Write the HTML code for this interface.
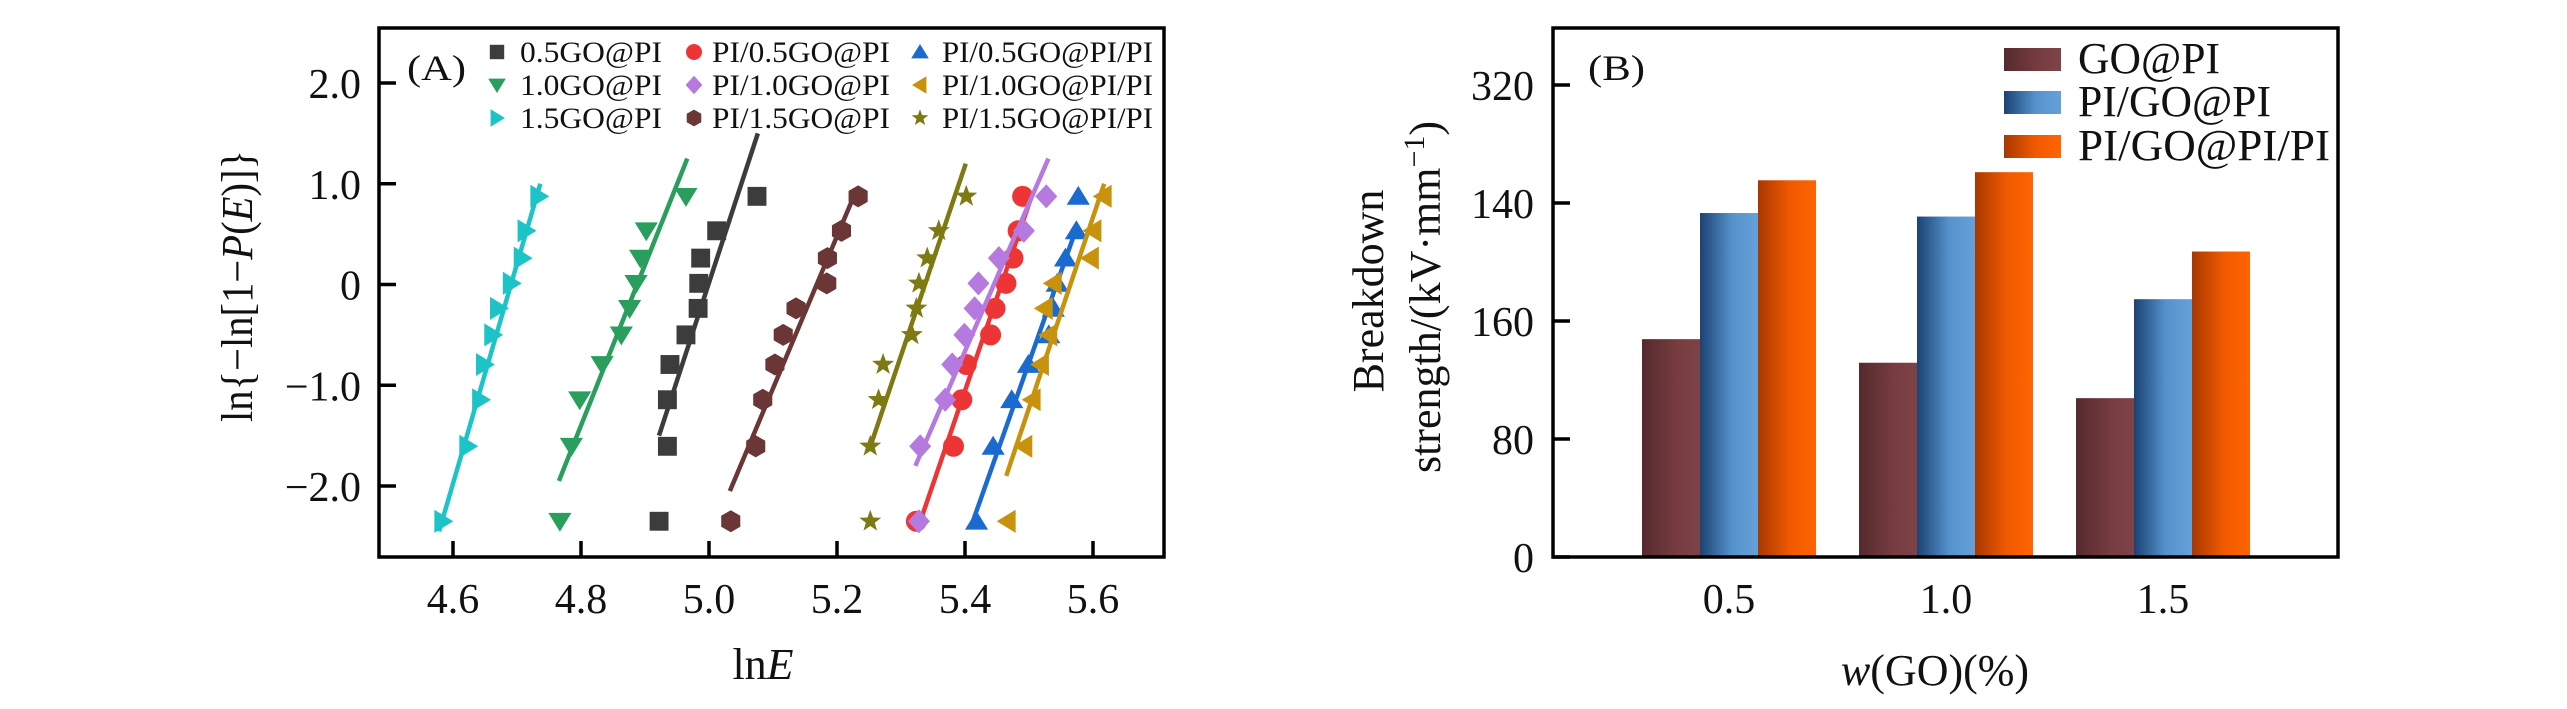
<!DOCTYPE html>
<html><head><meta charset="utf-8">
<style>
html,body{margin:0;padding:0;background:#fff;}
svg{display:block;}
text{font-family:"Liberation Serif",serif;fill:#111;}
</style></head>
<body>
<svg id="fig" width="2567" height="709" viewBox="0 0 2567 709" xmlns="http://www.w3.org/2000/svg">
<defs>
<linearGradient id="gBrown" x1="0" x2="1" y1="0" y2="0"><stop offset="0" stop-color="#552a2d"/><stop offset="0.6" stop-color="#763c40"/><stop offset="1" stop-color="#7e4346"/></linearGradient>
<linearGradient id="gBlue" x1="0" x2="1" y1="0" y2="0"><stop offset="0" stop-color="#1c4272"/><stop offset="0.55" stop-color="#5592cc"/><stop offset="1" stop-color="#66a0d8"/></linearGradient>
<linearGradient id="gOrange" x1="0" x2="1" y1="0" y2="0"><stop offset="0" stop-color="#a83800"/><stop offset="0.55" stop-color="#f05a00"/><stop offset="1" stop-color="#ff6400"/></linearGradient>
</defs>
<g id="panelA"></g>
<g id="panelB"></g>
</svg>
<script>
// ---------- Panel A data ----------
const rankY = [-2.35, -1.606, -1.144, -0.794, -0.50, -0.237, 0.0115, 0.262, 0.533, 0.875];
const seriesNames = ["0.5GO@PI","1.0GO@PI","1.5GO@PI","PI/0.5GO@PI","PI/1.0GO@PI","PI/1.5GO@PI","PI/0.5GO@PI/PI","PI/1.0GO@PI/PI","PI/1.5GO@PI/PI"];
const s05GO = [4.922,4.935,4.935,4.939,4.964,4.983,4.984,4.987,5.012,5.075];
const s10GO = [4.767,4.785,4.798,4.833,4.863,4.876,4.886,4.893,4.902,4.964];
const s15GO = [4.584,4.623,4.643,4.649,4.662,4.671,4.691,4.708,4.714,4.734];
const sPI05 = [5.324,5.382,5.395,5.402,5.440,5.447,5.464,5.475,5.483,5.490];
const sPI10 = [5.328,5.330,5.369,5.380,5.399,5.415,5.421,5.453,5.492,5.527];
const sPI15 = [5.034,5.073,5.084,5.103,5.116,5.136,5.184,5.185,5.207,5.233];
const sPIPI05 = [5.418,5.444,5.473,5.499,5.531,5.538,5.544,5.557,5.574,5.577];
const sPIPI10 = [5.466,5.492,5.505,5.518,5.531,5.524,5.538,5.596,5.600,5.616];
const sPIPI15 = [5.252,5.252,5.265,5.272,5.317,5.324,5.328,5.341,5.359,5.402];
const fitLo = [-1.5,-1.95,-2.45,-2.45,-1.8,-2.05,-2.4,-1.9,-1.65];
const fitHi = [1.5,1.25,1.0,0.9,1.25,0.9,0.55,1.0,1.2];
const xTicksA = [4.6,4.8,5.0,5.2,5.4,5.6];
const xTickLabelsA = ["4.6","4.8","5.0","5.2","5.4","5.6"];
const yTicksA = [-2,-1,0,1,2];
const yTickLabelsA = ["\u22122.0","\u22121.0","0","1.0","2.0"];

// ---------- Panel B data ----------
const categoriesB = ["0.5","1.0","1.5"];
const barGOPI = [147.7,131.7,107.7];
const barPIGOPI = [233.2,230.8,174.8];
const barPIGOPIPI = [255.4,260.9,207.1];
const barSeriesNames = ["GO@PI","PI/GO@PI","PI/GO@PI/PI"];
const yTicksB = [0,80,160,240,320];
const yTickLabelsB = ["0","80","160","140","320"];

const NS="http://www.w3.org/2000/svg";
function mk(tag, attrs, parent){const e=document.createElementNS(NS,tag);for(const k in attrs)e.setAttribute(k,attrs[k]);if(tag==='text')e.setAttribute('font-family','Liberation Serif, serif');parent.appendChild(e);return e;}

// scales
const xA = v => 453 + 640*(v-4.6);
const yA = v => 284.5 - 100.75*v;
const yB = v => 557 - 1.475*v;
const xB = i => 1729 + 217*i;

const A = document.getElementById('panelA');
const B = document.getElementById('panelB');

const seriesData = [s05GO,s10GO,s15GO,sPI05,sPI10,sPI15,sPIPI05,sPIPI10,sPIPI15];
const colors = ["#3c3c3c","#2a9e5c","#1cc4c8","#ee3535","#b57ae0","#6b3636","#1a6ad0","#c8920c","#7d7a12"];
const shapes = ["square","tdown","tright","circle","diamond","hex","tup","tleft","star"];

function marker(shape,cx,cy,r,color,parent){
  let el;
  if(shape==="square") el=mk('rect',{x:cx-r*0.9,y:cy-r*0.9,width:r*1.8,height:r*1.8,fill:color},parent);
  else if(shape==="circle") el=mk('circle',{cx:cx,cy:cy,r:r,fill:color},parent);
  else {
    let pts=[];
    if(shape==="tdown") pts=[[-1.1,-0.8],[1.1,-0.8],[0,1.0]];
    if(shape==="tup") pts=[[-1.1,0.8],[1.1,0.8],[0,-1.0]];
    if(shape==="tright") pts=[[-0.8,-1.1],[-0.8,1.1],[1.0,0]];
    if(shape==="tleft") pts=[[0.8,-1.1],[0.8,1.1],[-1.0,0]];
    if(shape==="diamond") pts=[[0,-1.15],[1.05,0],[0,1.15],[-1.05,0]];
    if(shape==="hex"){for(let k=0;k<6;k++){const a=Math.PI/6+k*Math.PI/3;pts.push([Math.cos(a)*1.05,Math.sin(a)*1.05]);}}
    if(shape==="star"){for(let k=0;k<10;k++){const a=-Math.PI/2+k*Math.PI/5;const rr=k%2?0.45:1.1;pts.push([Math.cos(a)*rr,Math.sin(a)*rr]);}}
    el=mk('polygon',{points:pts.map(p=>(cx+p[0]*r)+","+(cy+p[1]*r)).join(" "),fill:color},parent);
  }
  return el;
}

// Panel A frame
const frameA = mk('rect',{x:379,y:28,width:785,height:529,fill:"none",stroke:"#000","stroke-width":3.5},A);



xTicksA.forEach((t,i)=>{
  const tk=mk('line',{x1:xA(t),x2:xA(t),y1:557,y2:541,stroke:"#000","stroke-width":3.5},A);
  
  
  const lb=mk('text',{x:xA(t),y:613,"font-size":42,"text-anchor":"middle"},A);
  lb.textContent=xTickLabelsA[i];
  
  
});
yTicksA.forEach((t,i)=>{
  const tk=mk('line',{x1:379,x2:396,y1:yA(t),y2:yA(t),stroke:"#000","stroke-width":3.5},A);
  
  
  const lb=mk('text',{x:361,y:yA(t)+15,"font-size":42,"text-anchor":"end"},A);
  lb.textContent=yTickLabelsA[i];
  
  
});

// series
seriesData.forEach((arr,si)=>{
  const g=mk('g',{},A);
  
  
  const n=arr.length;let mx=0,my=0;for(let k=0;k<n;k++){mx+=arr[k];my+=rankY[k];}mx/=n;my/=n;
  let sxy=0,sxx=0;for(let k=0;k<n;k++){sxy+=(arr[k]-mx)*(rankY[k]-my);sxx+=(arr[k]-mx)**2;}
  const b=sxy/sxx,a=my-b*mx;
  const xl=(fitLo[si]-a)/b, xh=(fitHi[si]-a)/b;
  const ln=mk('line',{x1:xA(xl),y1:yA(fitLo[si]),x2:xA(xh),y2:yA(fitHi[si]),stroke:colors[si],"stroke-width":4.5},g);
  
  
  arr.forEach((v,k)=>{
    const m=marker(shapes[si],xA(v),yA(rankY[k]),10.5,colors[si],g);
    
    
  });
});

// legend A
const legA=mk('g',{},A);


const legCols=[{mx:497,tx:520,w:[142,142,142]},{mx:694,tx:712,w:[178,178,178]},{mx:920,tx:942,w:[211,211,211]}];
const legRows=[62,95,128];
const legOrder=[[0,1,2],[3,4,5],[6,7,8]];
legOrder.forEach((col,ci)=>{col.forEach((si,ri)=>{
  const e=mk('g',{},legA);
  
  
  const m=marker(shapes[si],legCols[ci].mx,legRows[ri]-10,8,colors[si],e);
  
  
  const t=mk('text',{x:legCols[ci].tx,y:legRows[ri],"font-size":30,textLength:legCols[ci].w[ri],lengthAdjust:"spacingAndGlyphs"},e);
  t.textContent=seriesNames[si];
  
  
});});

const tagA=mk('text',{x:407,y:80,"font-size":36,textLength:59,lengthAdjust:"spacingAndGlyphs"},A);
tagA.textContent="(A)";



const xtA=mk('text',{x:763,y:679,"font-size":44,"text-anchor":"middle"},A);
xtA.innerHTML='ln<tspan font-style="italic">E</tspan>';



const ytA=mk('text',{x:0,y:0,"font-size":44,"text-anchor":"middle",transform:"translate(252,286) rotate(-90)",textLength:272,lengthAdjust:"spacingAndGlyphs"},A);
ytA.innerHTML='ln{\u2212ln[1\u2212<tspan font-style="italic">P</tspan>(<tspan font-style="italic">E</tspan>)]}';



// ---------- Panel B ----------
const barW=58;
const barArrays=[barGOPI,barPIGOPI,barPIGOPIPI];
const grads=["url(#gBrown)","url(#gBlue)","url(#gOrange)"];
categoriesB.forEach((c,i)=>{
  barArrays.forEach((arr,s)=>{
    const x=xB(i)+(s-1.5)*barW;
    const r=mk('rect',{x:x,y:yB(arr[i]),width:barW,height:yB(0)-yB(arr[i]),fill:grads[s]},B);
    
    
  });
  const lb=mk('text',{x:xB(i),y:613,"font-size":42,"text-anchor":"middle"},B);
  lb.textContent=c;
  
  
});
const frameB=mk('rect',{x:1553,y:28,width:785,height:529,fill:"none",stroke:"#000","stroke-width":3.5},B);


yTicksB.forEach((t,i)=>{
  const tk=mk('line',{x1:1553,x2:1570,y1:yB(t),y2:yB(t),stroke:"#000","stroke-width":3.5},B);
  
  
  const lb=mk('text',{x:1534,y:yB(t)+15,"font-size":42,"text-anchor":"end"},B);
  lb.textContent=yTickLabelsB[i];
  
  
});
const legB=mk('g',{},B);


const legBY=[48,91,135];
const legBW=[142,193,252];
barSeriesNames.forEach((nm,s)=>{
  const e=mk('g',{},legB);
  
  
  const sw=mk('rect',{x:2004,y:legBY[s],width:57,height:23,fill:grads[s]},e);
  
  
  const t=mk('text',{x:2078,y:legBY[s]+25,"font-size":44,textLength:legBW[s],lengthAdjust:"spacingAndGlyphs"},e);
  t.textContent=nm;
  
  
});
const tagB=mk('text',{x:1588,y:80,"font-size":36,textLength:57,lengthAdjust:"spacingAndGlyphs"},B);
tagB.textContent="(B)";



const xtB=mk('text',{x:1935,y:685,"font-size":44,"text-anchor":"middle"},B);
xtB.innerHTML='<tspan font-style="italic">w</tspan>(GO)(%)';



const yt1=mk('text',{x:0,y:0,"font-size":44,"text-anchor":"middle",transform:"translate(1383,291) rotate(-90)"},B);
yt1.textContent="Breakdown";


const yt2=mk('text',{x:0,y:0,"font-size":44,"text-anchor":"middle",transform:"translate(1440,297) rotate(-90)"},B);
yt2.innerHTML='strength/(kV\u00B7mm<tspan dy="-16" font-size="30">\u22121</tspan><tspan dy="16">)</tspan>';


</script>
</body></html>
